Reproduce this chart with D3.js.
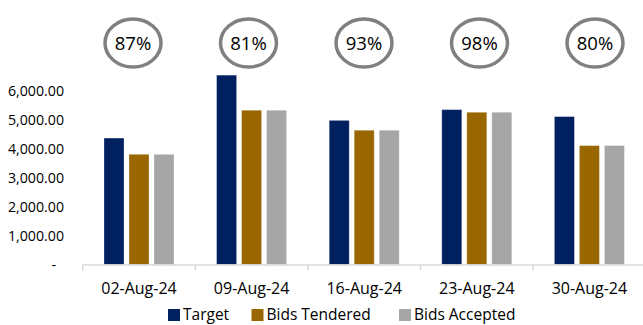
<!DOCTYPE html>
<html>
<head>
<meta charset="utf-8">
<script src="https://cdn.jsdelivr.net/npm/d3@7"></script>
<style>
  body { margin: 0; background: #fff; }
  svg { display: block; font-family: "Open Sans", sans-serif; }
</style>
</head>
<body>
<div id="chart"></div>
<script>
// chart data
const dates = ["02-Aug-24", "09-Aug-24", "16-Aug-24", "23-Aug-24", "30-Aug-24"];
const seriesNames = ["Target", "Bids Tendered", "Bids Accepted"];
const target = [4360, 6530, 4970, 5340, 5100];
const tendered = [3800, 5320, 4630, 5250, 4100];
const accepted = [3800, 5320, 4630, 5250, 4100];
const ratios = ["87%", "81%", "93%", "98%", "80%"];
const yTicks = [0, 1000, 2000, 3000, 4000, 5000, 6000];

const colors = ["#002060", "#996600", "#a6a6a6"];

const W = 643, H = 325;
const baseY = 264.5;

const svg = d3.select("#chart")
  .append("svg")
    .attr("width", W)
    .attr("height", H);

// scales
const x = d3.scaleBand()
  .domain(dates)
  .range([82.7, 645.7])
  .padding(0);

const xs = d3.scaleBand()
  .domain(seriesNames)
  .range([-35, 35])
  .paddingInner(0.2);

const y = d3.scaleLinear()
  .domain([0, 6000])
  .range([baseY, 90.5]);

// y labels (no axis line)
svg.append("g")
  .selectAll("text")
  .data(yTicks)
  .join("text")
    .attr("x", d => d === 0 ? 56 : 64)
    .attr("y", d => y(d) + 5.5)
    .attr("text-anchor", "end")
    .style("font-size", "14.2px")
    .attr("fill", "#000")
    .text(d => d === 0 ? "-" : d3.format(",.2f")(d));

// bars
const table = dates.map((d, i) => ({date: d, vals: [target[i], tendered[i], accepted[i]]}));

const groups = svg.append("g")
  .selectAll("g")
  .data(table)
  .join("g")
    .attr("transform", d => `translate(${x(d.date) + x.bandwidth() / 2},0)`);

groups.selectAll("rect")
  .data(d => d.vals.map((v, j) => ({name: seriesNames[j], v: v, j: j})))
  .join("rect")
    .attr("x", d => xs(d.name))
    .attr("y", d => y(d.v))
    .attr("width", xs.bandwidth())
    .attr("height", d => baseY - y(d.v))
    .attr("fill", d => colors[d.j])
    .attr("stroke", "rgba(255,255,255,0.35)")
    .attr("stroke-width", 0.8);

// x axis
const xAxis = svg.append("g");
xAxis.append("line")
  .attr("x1", x.range()[0])
  .attr("x2", x.range()[1])
  .attr("y1", baseY + 0.5)
  .attr("y2", baseY + 0.5)
  .attr("stroke", "#d9d9d9")
  .attr("stroke-width", 1.5);

xAxis.selectAll("line.tick")
  .data(dates)
  .join("line")
    .attr("class", "tick")
    .attr("x1", d => x(d))
    .attr("x2", d => x(d))
    .attr("y1", baseY)
    .attr("y2", baseY + 6)
    .attr("stroke", "#d9d9d9")
    .attr("stroke-width", 1.5);

xAxis.selectAll("text")
  .data(dates)
  .join("text")
    .attr("x", d => x(d) + x.bandwidth() / 2)
    .attr("y", 293.5)
    .attr("text-anchor", "middle")
    .style("font-size", "16px")
    .attr("fill", "#000")
    .text(d => d);

// ratio bubbles
const cx = d3.scalePoint()
  .domain(dates)
  .range([133, 595]);

const bubbles = svg.append("g")
  .selectAll("g")
  .data(dates)
  .join("g")
    .attr("transform", d => `translate(${cx(d)},43)`);

bubbles.append("ellipse")
  .attr("rx", 28)
  .attr("ry", 24)
  .attr("fill", "#fff")
  .attr("stroke", "#808080")
  .attr("stroke-width", 3.5);

bubbles.append("text")
  .attr("text-anchor", "middle")
  .attr("y", 7)
  .style("font-size", "18.5px")
  .attr("fill", "#000")
  .text((d, i) => ratios[i]);

// legend
const legendX = [168, 251.5, 399];
const legend = svg.append("g")
  .selectAll("g")
  .data(seriesNames)
  .join("g")
    .attr("transform", (d, i) => `translate(${legendX[i]},309)`);

legend.append("rect")
  .attr("width", 12)
  .attr("height", 12)
  .attr("fill", (d, i) => colors[i]);

legend.append("text")
  .attr("x", 15)
  .attr("y", 11)
  .style("font-size", "15.5px")
  .attr("fill", "#000")
  .text(d => d);
</script>
</body>
</html>
